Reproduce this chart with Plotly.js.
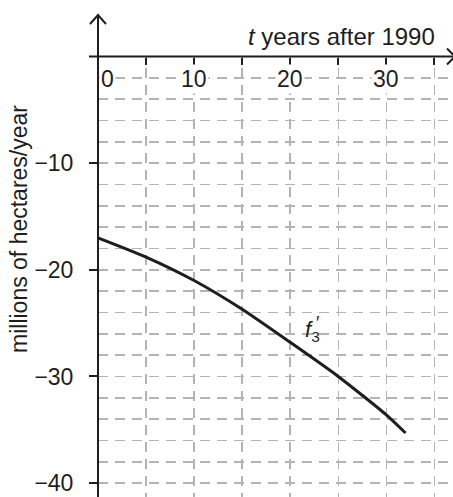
<!DOCTYPE html>
<html>
<head>
<meta charset="utf-8">
<script src="https://cdn.plot.ly/plotly-3.0.1.min.js"></script>
<style>html,body{margin:0;padding:0;background:#fff;}#chart{width:453px;height:497px;}</style>
</head>
<body>
<div id="chart"></div>
<script>
// ---- data ----
const years = [0, 5, 10, 15, 20, 25, 30, 32];
const rate = [-17.0, -18.8, -21.0, -23.7, -26.8, -30.0, -33.6, -35.3];
const xTickVals = [0, 5, 10, 15, 20, 25, 30, 35];
const xLabelVals = [0, 10, 20, 30];
const yTickVals = [-10, -20, -30, -40];
const yTickText = ['\u221210', '\u221220', '\u221230', '\u221240'];
const xTitle = '<i>t</i> years after 1990';
const yTitle = 'millions of hectares/year';
const curveName = '<i>f</i><sub>3</sub>';

// ---- layout helpers ----
const W = 453, H = 497, L = 98;
const xRange = [0, 36.94];
const yRange = [-41.3, 5.3];
const FONT = 'Liberation Sans, Arial, sans-serif';
const INK = '#1e1e1e';
const GRID = '#b4b4b4';
const px2paperX = p => (p - L) / (W - L);
const py2paperY = p => (H - p) / H;
const y0px = 56.5;

const shapes = [
  // white cover above the t-axis (hide grid there)
  {type: 'rect', xref: 'paper', yref: 'paper', x0: 0.003, x1: 1.01, y0: py2paperY(y0px), y1: 1.01,
   fillcolor: '#fff', line: {width: 0}, layer: 'above'},
  // t-axis line
  {type: 'line', xref: 'paper', yref: 'paper', x0: px2paperX(89), x1: px2paperX(454),
   y0: py2paperY(y0px), y1: py2paperY(y0px), line: {color: INK, width: 2}, layer: 'above'},
  // vertical axis line
  {type: 'line', xref: 'paper', yref: 'paper', x0: 0, x1: 0,
   y0: 0, y1: py2paperY(15), line: {color: INK, width: 2}, layer: 'above'},
  // up arrow
  {type: 'path', xref: 'paper', yref: 'paper',
   path: `M ${px2paperX(90)} ${py2paperY(24)} L 0 ${py2paperY(15)} L ${px2paperX(106)} ${py2paperY(24)}`,
   line: {color: INK, width: 2}, layer: 'above'},
  // right arrow (clipped at edge)
  {type: 'path', xref: 'paper', yref: 'paper',
   path: `M ${px2paperX(447)} ${py2paperY(y0px-8)} L ${px2paperX(455)} ${py2paperY(y0px)} L ${px2paperX(447)} ${py2paperY(y0px+8)}`,
   line: {color: INK, width: 2}, layer: 'above'}
];

const annotations = [];
xLabelVals.forEach(v => {
  annotations.push({
    x: v, y: -2.1, xref: 'x', yref: 'y', text: String(v), showarrow: false,
    xanchor: v === 0 ? 'left' : 'center', yanchor: 'middle', xshift: v === 0 ? 1 : 0,
    bgcolor: '#fff', borderpad: 1, font: {family: FONT, size: 23, color: INK}
  });
});
annotations.push({
  x: 35.3, y: 0.45, xref: 'x', yref: 'y', text: xTitle, showarrow: false,
  xanchor: 'right', yanchor: 'bottom', font: {family: FONT, size: 24, color: INK}
});
annotations.push({
  xref: 'paper', yref: 'paper', x: px2paperX(19), y: py2paperY(229), text: yTitle,
  textangle: -90, showarrow: false, xanchor: 'center', yanchor: 'middle',
  font: {family: FONT, size: 23, color: INK}
});
annotations.push({
  x: 21.3, y: -25.7, xref: 'x', yref: 'y', text: curveName, showarrow: false,
  xanchor: 'left', yanchor: 'middle', font: {family: FONT, size: 22, color: INK}
});
annotations.push({
  x: 22.5, y: -25.0, xref: 'x', yref: 'y', text: '′', showarrow: false,
  xanchor: 'left', yanchor: 'middle', font: {family: FONT, size: 18, color: INK}
});

const trace = {
  x: years, y: rate, type: 'scatter', mode: 'lines',
  line: {color: INK, width: 3, shape: 'spline', smoothing: 0.6},
  hoverinfo: 'skip'
};

const layout = {
  width: W, height: H,
  margin: {l: L, r: 0, t: 0, b: 0, pad: 0},
  paper_bgcolor: '#fff', plot_bgcolor: '#fff',
  showlegend: false,
  font: {family: FONT, color: INK},
  xaxis: {
    range: xRange, anchor: 'free', position: py2paperY(y0px), side: 'bottom',
    tickmode: 'array', tickvals: xTickVals, showticklabels: false,
    ticks: 'outside', ticklen: 7, tickwidth: 2, tickcolor: INK,
    showline: false, zeroline: false,
    showgrid: true, gridcolor: GRID, gridwidth: 1.5, griddash: '10px,7px',
    fixedrange: true
  },
  yaxis: {
    range: yRange, tickmode: 'array', tickvals: yTickVals, ticktext: yTickText,
    ticks: 'outside', ticklen: 8, tickwidth: 2, tickcolor: INK,
    tickfont: {family: FONT, size: 23, color: INK}, ticklabelstandoff: 11,
    showline: false, zeroline: false,
    showgrid: true, gridcolor: GRID, gridwidth: 1.5, griddash: '10px,7px',
    minor: {tickmode: 'linear', tick0: 0, dtick: 2, showgrid: true, gridcolor: GRID,
            gridwidth: 1.5, griddash: '10px,7px', ticks: ''},
    automargin: false, fixedrange: true
  },
  shapes: shapes,
  annotations: annotations
};

Plotly.newPlot('chart', [trace], layout, {displayModeBar: false, staticPlot: true});
</script>
</body>
</html>
